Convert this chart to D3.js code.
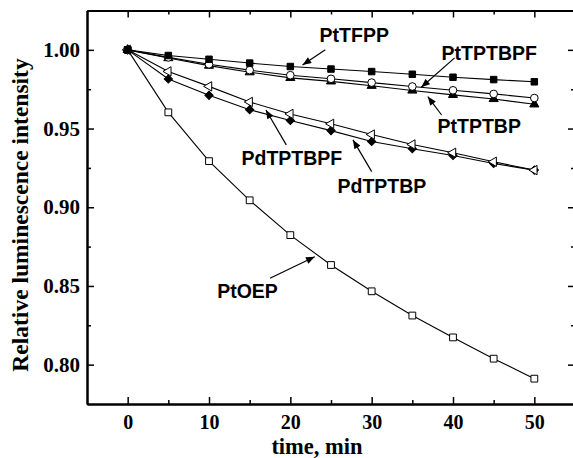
<!DOCTYPE html>
<html>
<head>
<meta charset="utf-8">
<script src="https://cdn.jsdelivr.net/npm/d3@7"></script>
<style>
  body { margin: 0; background: #fff; }
  svg { display: block; }
</style>
</head>
<body>
<div id="main"></div>
<script>
// data

const times = [0, 5, 10, 15, 20, 25, 30, 35, 40, 45, 50];

const ptOEP    = [1.0, 0.9603, 0.9293, 0.9044, 0.8823, 0.8633, 0.8466, 0.8312, 0.8173, 0.8038, 0.7911];
const pdTPTBP  = [1.0, 0.9815, 0.9711, 0.9620, 0.9551, 0.9487, 0.9418, 0.9372, 0.9329, 0.9278, 0.9236];
const pdTPTBPF = [1.0, 0.9863, 0.9768, 0.9669, 0.9593, 0.9530, 0.9462, 0.9399, 0.9346, 0.9289, 0.9236];
const ptTPTBP  = [1.0, 0.9948, 0.9900, 0.9858, 0.9822, 0.9800, 0.9772, 0.9742, 0.9714, 0.9688, 0.9654];
const ptTPTBPF = [1.0, 0.9952, 0.9908, 0.9871, 0.9839, 0.9816, 0.9792, 0.9767, 0.9743, 0.9720, 0.9694];
const ptTFPP   = [1.0, 0.9964, 0.9940, 0.9916, 0.9894, 0.9878, 0.9862, 0.9845, 0.9826, 0.9811, 0.9797];

const xMajor = [0, 10, 20, 30, 40, 50];
const xMinor = [5, 15, 25, 35, 45];
const yMajor = [0.80, 0.85, 0.90, 0.95, 1.00];
const yMinor = [0.825, 0.875, 0.925, 0.975];

// label: [text x, text y, arrow from x, from y, arrow tip x, tip y] in data units
const labelNames = ['PtTFPP', 'PtTPTBPF', 'PtTPTBP', 'PdTPTBPF', 'PdTPTBP', 'PtOEP'];
const labelPos = [
    [23.6, 1.0050, 24.3, 1.0000, 21.5, 0.9904],
    [38.6, 0.9936, 40.2, 0.9949, 36.1, 0.9762],
    [38.1, 0.9472, 38.6, 0.9586, 36.9, 0.9703],
    [14.0, 0.9269, 19.5, 0.9396, 17.0, 0.9618],
    [25.8, 0.9091, 30.0, 0.9226, 27.7, 0.9428],
    [11.0, 0.8424, 17.5, 0.8549, 23.0, 0.8686]
];

// SVG

const w = 573;
const h = 458;
const padLeft = 87, padRight = 575, padTop = 10.5, padBottom = 404;

const svg = d3.select('#main')
    .append('svg')
    .attr('width', w)
    .attr('height', h);

const x = d3.scaleLinear().domain([-5, 55]).range([padLeft, padRight]);
const y = d3.scaleLinear().domain([0.775, 1.025]).range([padBottom, padTop]);

// axes, ticks point inwards

const tickFont = 'Liberation Serif, Times New Roman, serif';

const drawAxis = (axis, tx, ty, withLabels, fontSize) => {
    const g = svg.append('g')
        .attr('transform', `translate(${tx}, ${ty})`)
        .call(axis);
    g.select('.domain').attr('stroke-width', 2);
    g.selectAll('.tick line').attr('stroke-width', 1.5);
    g.selectAll('text')
        .style('font-family', tickFont)
        .style('font-weight', 'bold')
        .style('font-size', fontSize || '21px')
        .attr('fill', '#000');
    if (!withLabels) g.selectAll('text').remove();
    return g;
};

drawAxis(d3.axisBottom(x).tickValues(xMinor).tickSize(-4).tickSizeOuter(0), 0, padBottom, false);
drawAxis(d3.axisTop(x).tickValues(xMinor).tickSize(-4).tickSizeOuter(0), 0, padTop, false);
drawAxis(d3.axisLeft(y).tickValues(yMinor).tickSize(-4).tickSizeOuter(0), padLeft, 0, false);
drawAxis(d3.axisRight(y).tickValues(yMinor).tickSize(-4).tickSizeOuter(0), padRight, 0, false);

drawAxis(d3.axisBottom(x).tickValues(xMajor).tickSize(-7).tickSizeOuter(0).tickPadding(11).tickFormat(d3.format('d')), 0, padBottom, true, '20px');
drawAxis(d3.axisTop(x).tickValues(xMajor).tickSize(-7).tickSizeOuter(0), 0, padTop, false);
drawAxis(d3.axisLeft(y).tickValues(yMajor).tickSize(-7).tickSizeOuter(0).tickPadding(7).tickFormat(d3.format('.2f')), padLeft, 0, true);
drawAxis(d3.axisRight(y).tickValues(yMajor).tickSize(-7).tickSizeOuter(0), padRight, 0, false);

// axis titles

svg.append('text')
    .attr('x', (x(-5) + x(55)) / 2 - 14)
    .attr('y', 454)
    .attr('text-anchor', 'middle')
    .style('font-family', tickFont)
    .style('font-weight', 'bold')
    .style('font-size', '22.5px')
    .text('time, min');

svg.append('text')
    .attr('transform', `translate(28, 215) rotate(-90)`)
    .attr('text-anchor', 'middle')
    .style('font-family', tickFont)
    .style('font-weight', 'bold')
    .style('font-size', '23.5px')
    .text('Relative luminescence intensity');

// series

const series = [
    { values: ptOEP,    symbol: d3.symbolSquare,   size: 46, fill: '#fff', rot: 0 },
    { values: pdTPTBP,  symbol: d3.symbolSquare,   size: 34, fill: '#000', rot: 45 },
    { values: pdTPTBPF, symbol: d3.symbolTriangle, size: 38, fill: '#fff', rot: -90 },
    { values: ptTPTBP,  symbol: d3.symbolTriangle, size: 36, fill: '#000', rot: 0 },
    { values: ptTPTBPF, symbol: d3.symbolCircle,   size: 46, fill: '#fff', rot: 0 },
    { values: ptTFPP,   symbol: d3.symbolSquare,   size: 42, fill: '#000', rot: 0 }
];

const line = d3.line()
    .x((d, i) => x(times[i]))
    .y(d => y(d));

svg.selectAll('.series-line')
    .data(series)
    .enter()
    .append('path')
    .attr('class', 'series-line')
    .attr('d', d => line(d.values))
    .attr('fill', 'none')
    .attr('stroke', '#000')
    .attr('stroke-width', 1.1);

series.forEach(s => {
    svg.append('g')
        .selectAll('path')
        .data(s.values)
        .enter()
        .append('path')
        .attr('d', d3.symbol().type(s.symbol).size(s.size))
        .attr('transform', (d, i) => `translate(${x(times[i])}, ${y(d)}) rotate(${s.rot})`)
        .attr('fill', s.fill)
        .attr('stroke', '#000')
        .attr('stroke-width', 1);
});

// annotations

svg.append('defs')
    .append('marker')
    .attr('id', 'arrow')
    .attr('viewBox', '0 0 10 8')
    .attr('refX', 10)
    .attr('refY', 4)
    .attr('markerWidth', 10)
    .attr('markerHeight', 7)
    .attr('markerUnits', 'userSpaceOnUse')
    .attr('orient', 'auto')
    .append('path')
    .attr('d', 'M0,0 L10,4 L0,8 Z')
    .attr('fill', '#000');

labelNames.forEach((name, i) => {
    const p = labelPos[i];
    svg.append('text')
        .attr('x', x(p[0]))
        .attr('y', y(p[1]))
        .style('font-family', 'Liberation Sans, Arial, sans-serif')
        .style('font-weight', 'bold')
        .style('font-size', '19.5px')
        .text(name);
    svg.append('line')
        .attr('x1', x(p[2]))
        .attr('y1', y(p[3]))
        .attr('x2', x(p[4]))
        .attr('y2', y(p[5]))
        .attr('stroke', '#000')
        .attr('stroke-width', 1.2)
        .attr('marker-end', 'url(#arrow)');
});
</script>
</body>
</html>
